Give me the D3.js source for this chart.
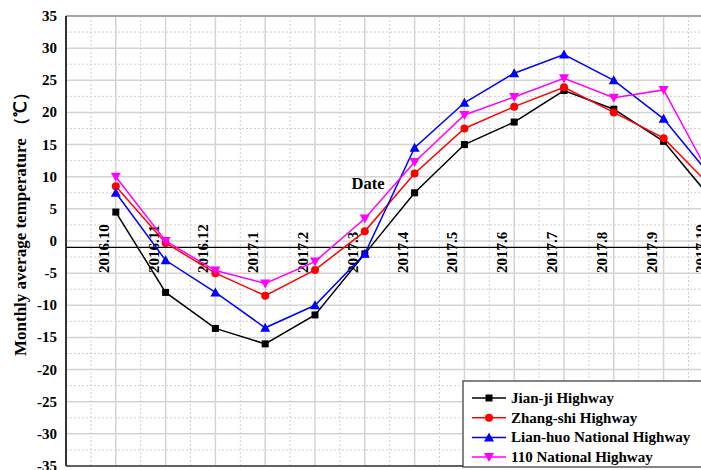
<!DOCTYPE html>
<html>
<head>
<meta charset="utf-8">
<script src="https://cdn.jsdelivr.net/npm/d3@7"></script>
<style>
  html, body { margin: 0; padding: 0; background: #fff; }
  svg { display: block; }
  text { font-family: "Liberation Serif", "Times New Roman", serif; font-weight: bold; fill: #000; }
</style>
</head>
<body>
<svg id="chart" width="701" height="470"></svg>
<script>
const categories = ["2016.10","2016.11","2016.12","2017.1","2017.2","2017.3","2017.4","2017.5","2017.6","2017.7","2017.8","2017.9","2017.10"];
const jianji   = [4.5, -8.0, -13.6, -16.0, -11.5, -2.0, 7.5, 15.0, 18.5, 23.4, 20.5, 15.5, 6.2];
const zhangshi = [8.5, -0.3, -5.0, -8.5, -4.5, 1.5, 10.5, 17.5, 20.9, 23.9, 20.0, 16.0, 8.1];
const lianhuo  = [7.5, -3.0, -8.0, -13.5, -10.0, -2.0, 14.5, 21.5, 26.1, 29.0, 25.0, 19.0, 9.6];
const national110 = [10.0, 0.0, -4.6, -6.6, -3.2, 3.5, 12.3, 19.6, 22.4, 25.3, 22.3, 23.5, 9.2];
const seriesNames = ["Jian-ji Highway","Zhang-shi Highway","Lian-huo National Highway","110 National Highway"];
const yTicks = [35,30,25,20,15,10,5,0,-5,-10,-15,-20,-25,-30,-35];

const series = [
  {name: seriesNames[0], values: jianji, color: "#000000", marker: "square"},
  {name: seriesNames[1], values: zhangshi, color: "#ff0000", marker: "circle"},
  {name: seriesNames[2], values: lianhuo, color: "#0000ff", marker: "triUp"},
  {name: seriesNames[3], values: national110, color: "#ff00ff", marker: "triDown"}
];

const svg = d3.select("#chart");
const pLeft = 66, pTop = 16, pBottom = 466, pRight = 701;
const step = 49.8;
const x = d3.scaleLinear().domain([-1, 13]).range([pLeft, pLeft + 14 * step]);
const y = d3.scaleLinear().domain([-35, 35]).range([pBottom, pTop]);

svg.append("defs").append("clipPath").attr("id", "plotclip")
  .append("rect").attr("x", pLeft).attr("y", pTop).attr("width", pRight - pLeft).attr("height", pBottom - pTop);

const grid = svg.append("g");
for (let v = -35; v <= 35; v += 2.5) {
  const major = v % 5 === 0;
  grid.append("line")
    .attr("x1", pLeft).attr("x2", pRight)
    .attr("y1", y(v)).attr("y2", y(v))
    .attr("stroke", major ? "#d4d4d4" : "#cfcfcf")
    .attr("stroke-width", major ? 1.5 : 1)
    .attr("stroke-dasharray", major ? null : "2,2");
}
for (let i = -0.5; i <= 13; i += 0.5) {
  const major = Number.isInteger(i);
  if (x(i) > pRight) continue;
  grid.append("line")
    .attr("x1", x(i)).attr("x2", x(i))
    .attr("y1", pTop).attr("y2", pBottom)
    .attr("stroke", major ? "#d4d4d4" : "#cfcfcf")
    .attr("stroke-width", major ? 1.5 : 1)
    .attr("stroke-dasharray", major ? null : "2,2");
}

svg.append("line").attr("x1", pLeft).attr("x2", pRight).attr("y1", pTop).attr("y2", pTop)
  .attr("stroke", "#a6a6a6").attr("stroke-width", 2);
svg.append("line").attr("x1", pLeft).attr("x2", pRight).attr("y1", pBottom).attr("y2", pBottom)
  .attr("stroke", "#606060").attr("stroke-width", 2);
svg.append("line").attr("x1", pLeft).attr("x2", pLeft).attr("y1", pTop).attr("y2", pBottom)
  .attr("stroke", "#333").attr("stroke-width", 2);

svg.append("line").attr("x1", pLeft).attr("x2", pRight).attr("y1", y(-1)).attr("y2", y(-1))
  .attr("stroke", "#000").attr("stroke-width", 1.2);

svg.append("g").selectAll("text").data(yTicks).join("text")
  .attr("x", 57).attr("y", d => y(d))
  .attr("text-anchor", "end").attr("dominant-baseline", "central")
  .style("font-size", "15px")
  .text(d => d);

svg.append("g").selectAll("text").data(categories).join("text")
  .attr("transform", (d, i) => `translate(${x(i) - 12},273) rotate(-90)`)
  .attr("text-anchor", "start").attr("dominant-baseline", "central")
  .style("font-size", "15px")
  .text(d => d);

svg.append("text")
  .attr("transform", `translate(20,220) rotate(-90)`)
  .attr("text-anchor", "middle").attr("dominant-baseline", "central")
  .attr("textLength", 272).attr("lengthAdjust", "spacingAndGlyphs")
  .style("font-size", "17px")
  .text("Monthly average temperature （℃）");
svg.append("text").attr("x", 368).attr("y", 189).attr("text-anchor", "middle")
  .style("font-size", "16.5px").text("Date");

function drawMarker(g, type, cx, cy, color) {
  if (type === "square") {
    g.append("rect").attr("x", cx - 3.5).attr("y", cy - 3.5).attr("width", 7).attr("height", 7).attr("fill", color);
  } else if (type === "circle") {
    g.append("circle").attr("cx", cx).attr("cy", cy).attr("r", 4).attr("fill", color);
  } else if (type === "triUp") {
    g.append("path").attr("d", `M${cx},${cy - 5}L${cx + 5},${cy + 4}L${cx - 5},${cy + 4}Z`).attr("fill", color);
  } else {
    g.append("path").attr("d", `M${cx},${cy + 5}L${cx + 5},${cy - 4}L${cx - 5},${cy - 4}Z`).attr("fill", color);
  }
}

const plot = svg.append("g").attr("clip-path", "url(#plotclip)");
const line = d3.line().x((d, i) => x(i)).y(d => y(d));
series.forEach(s => {
  const g = plot.append("g");
  g.append("path").datum(s.values).attr("d", line)
    .attr("fill", "none").attr("stroke", s.color).attr("stroke-width", 1.5);
  s.values.forEach((v, i) => drawMarker(g, s.marker, x(i), y(v), s.color));
});

const lg = svg.append("g");
lg.append("rect").attr("x", 463).attr("y", 381).attr("width", 245).attr("height", 86)
  .attr("fill", "#fff").attr("stroke", "#333").attr("stroke-width", 1.2);
series.forEach((s, i) => {
  const cy = 398 + i * 19.7;
  lg.append("line").attr("x1", 472).attr("x2", 506).attr("y1", cy).attr("y2", cy)
    .attr("stroke", s.color).attr("stroke-width", 1.5);
  drawMarker(lg, s.marker, 489, cy, s.color);
  lg.append("text").attr("x", 511).attr("y", cy).attr("dominant-baseline", "central")
    .style("font-size", "15px").text(s.name);
});
</script>
</body>
</html>
